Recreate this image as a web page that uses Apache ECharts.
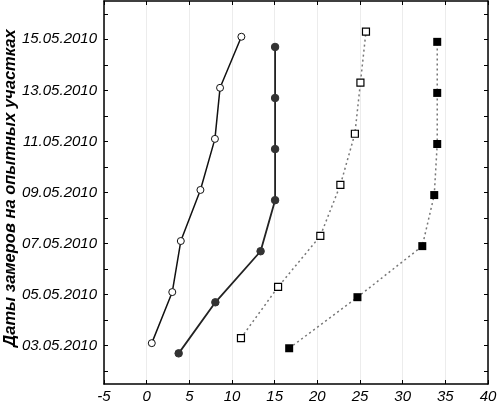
<!DOCTYPE html>
<html>
<head>
<meta charset="utf-8">
<script src="https://cdn.jsdelivr.net/npm/echarts@6/dist/echarts.min.js"></script>
<style>
  html, body { margin: 0; padding: 0; background: #fff; }
  #chart { width: 498px; height: 405px; }
</style>
</head>
<body>
<div id="chart"></div>
<script>
// даты (дни мая 2010) и подписи оси
const dayTicks = [2, 3, 4, 5, 6, 7, 8, 9, 10, 11, 12, 13, 14, 15, 16]
const dayLabels = [3, 5, 7, 9, 11, 13, 15]
const dateLabels = ['03.05.2010', '05.05.2010', '07.05.2010', '09.05.2010', '11.05.2010', '13.05.2010', '15.05.2010']

// ряды: значения x и положения по y (с небольшим смещением, как на рисунке)
const s1x = [0.6, 3.0, 4.0, 6.3, 8.0, 8.6, 11.1]
const s1y = [3.1, 5.1, 7.1, 9.1, 11.1, 13.1, 15.1]
const s2x = [3.75, 8.05, 13.35, 15.05, 15.05, 15.05, 15.05]
const s2y = [2.7, 4.7, 6.7, 8.7, 10.7, 12.7, 14.7]
const s3x = [11.05, 15.4, 20.35, 22.7, 24.4, 25.05, 25.7]
const s3y = [3.3, 5.3, 7.3, 9.3, 11.3, 13.3, 15.3]
const s4x = [16.7, 24.7, 32.3, 33.7, 34.05, 34.05, 34.05]
const s4y = [2.9, 4.9, 6.9, 8.9, 10.9, 12.9, 14.9]

const pairs = (xs, ys) => xs.map((x, i) => [x, ys[i]])

const chart = echarts.init(document.getElementById('chart'))

const font = '"Liberation Sans", Arial, sans-serif'

const option = {
  animation: false,
  backgroundColor: '#fff',
  grid: { left: 104, right: 10, top: 1, bottom: 21, outerBoundsMode: 'none', containLabel: false },
  xAxis: [
    {
      type: 'value',
      min: -5,
      max: 40,
      interval: 5,
      axisLine: { show: true, onZero: false, lineStyle: { color: '#000', width: 1.5 } },
      axisTick: { show: true, inside: true, length: 4, lineStyle: { color: '#000' } },
      axisLabel: { fontFamily: font, fontStyle: 'italic', fontSize: 15, color: '#000', margin: 5 },
      splitLine: { show: true, lineStyle: { color: '#ececec', width: 1 } }
    },
    {
      type: 'value',
      position: 'top',
      min: -5,
      max: 40,
      interval: 5,
      axisLine: { show: true, onZero: false, lineStyle: { color: '#000', width: 1.5 } },
      axisTick: { show: true, inside: true, length: 4, lineStyle: { color: '#000' } },
      axisLabel: { show: false },
      splitLine: { show: false }
    }
  ],
  yAxis: [
    {
      type: 'value',
      min: 1.5,
      max: 16.5,
      name: 'Даты замеров на опытных участках',
      nameLocation: 'middle',
      nameGap: 85,
      nameMoveOverlap: false,
      nameTextStyle: { fontFamily: font, fontStyle: 'italic', fontWeight: 'bold', fontSize: 16.5, color: '#000', padding: [0, 0, 0, 9] },
      axisLine: { show: true, onZero: false, lineStyle: { color: '#000', width: 1.5 } },
      axisTick: { show: true, inside: true, length: 4, customValues: dayTicks, lineStyle: { color: '#000' } },
      axisLabel: {
        customValues: dayLabels,
        fontFamily: font,
        fontStyle: 'italic',
        fontSize: 15,
        color: '#000',
        margin: 7,
        formatter: v => dateLabels[dayLabels.indexOf(Math.round(v))] || ''
      },
      splitLine: { show: false }
    },
    {
      type: 'value',
      position: 'right',
      min: 1.5,
      max: 16.5,
      axisLine: { show: true, onZero: false, lineStyle: { color: '#000', width: 1.5 } },
      axisTick: { show: true, inside: true, length: 4, customValues: dayTicks, lineStyle: { color: '#000' } },
      axisLabel: { show: false },
      splitLine: { show: false }
    }
  ],
  series: [
    {
      type: 'line',
      data: pairs(s1x, s1y),
      symbol: 'circle',
      symbolSize: 7,
      lineStyle: { color: '#111', width: 1.5 },
      itemStyle: { color: '#fff', borderColor: '#111', borderWidth: 1 }
    },
    {
      type: 'line',
      data: pairs(s2x, s2y),
      symbol: 'circle',
      symbolSize: 7.5,
      lineStyle: { color: '#222', width: 1.8 },
      itemStyle: { color: '#333', borderColor: '#333', borderWidth: 1 }
    },
    {
      type: 'line',
      data: pairs(s3x, s3y),
      symbol: 'rect',
      symbolSize: 7,
      lineStyle: { color: '#777', width: 1.5, type: [2, 3] },
      itemStyle: { color: '#fff', borderColor: '#000', borderWidth: 1.2 }
    },
    {
      type: 'line',
      data: pairs(s4x, s4y),
      symbol: 'rect',
      symbolSize: 8,
      lineStyle: { color: '#777', width: 1.5, type: [2, 3] },
      itemStyle: { color: '#000', borderColor: '#000', borderWidth: 0 }
    }
  ]
}

chart.setOption(option)
</script>
</body>
</html>
